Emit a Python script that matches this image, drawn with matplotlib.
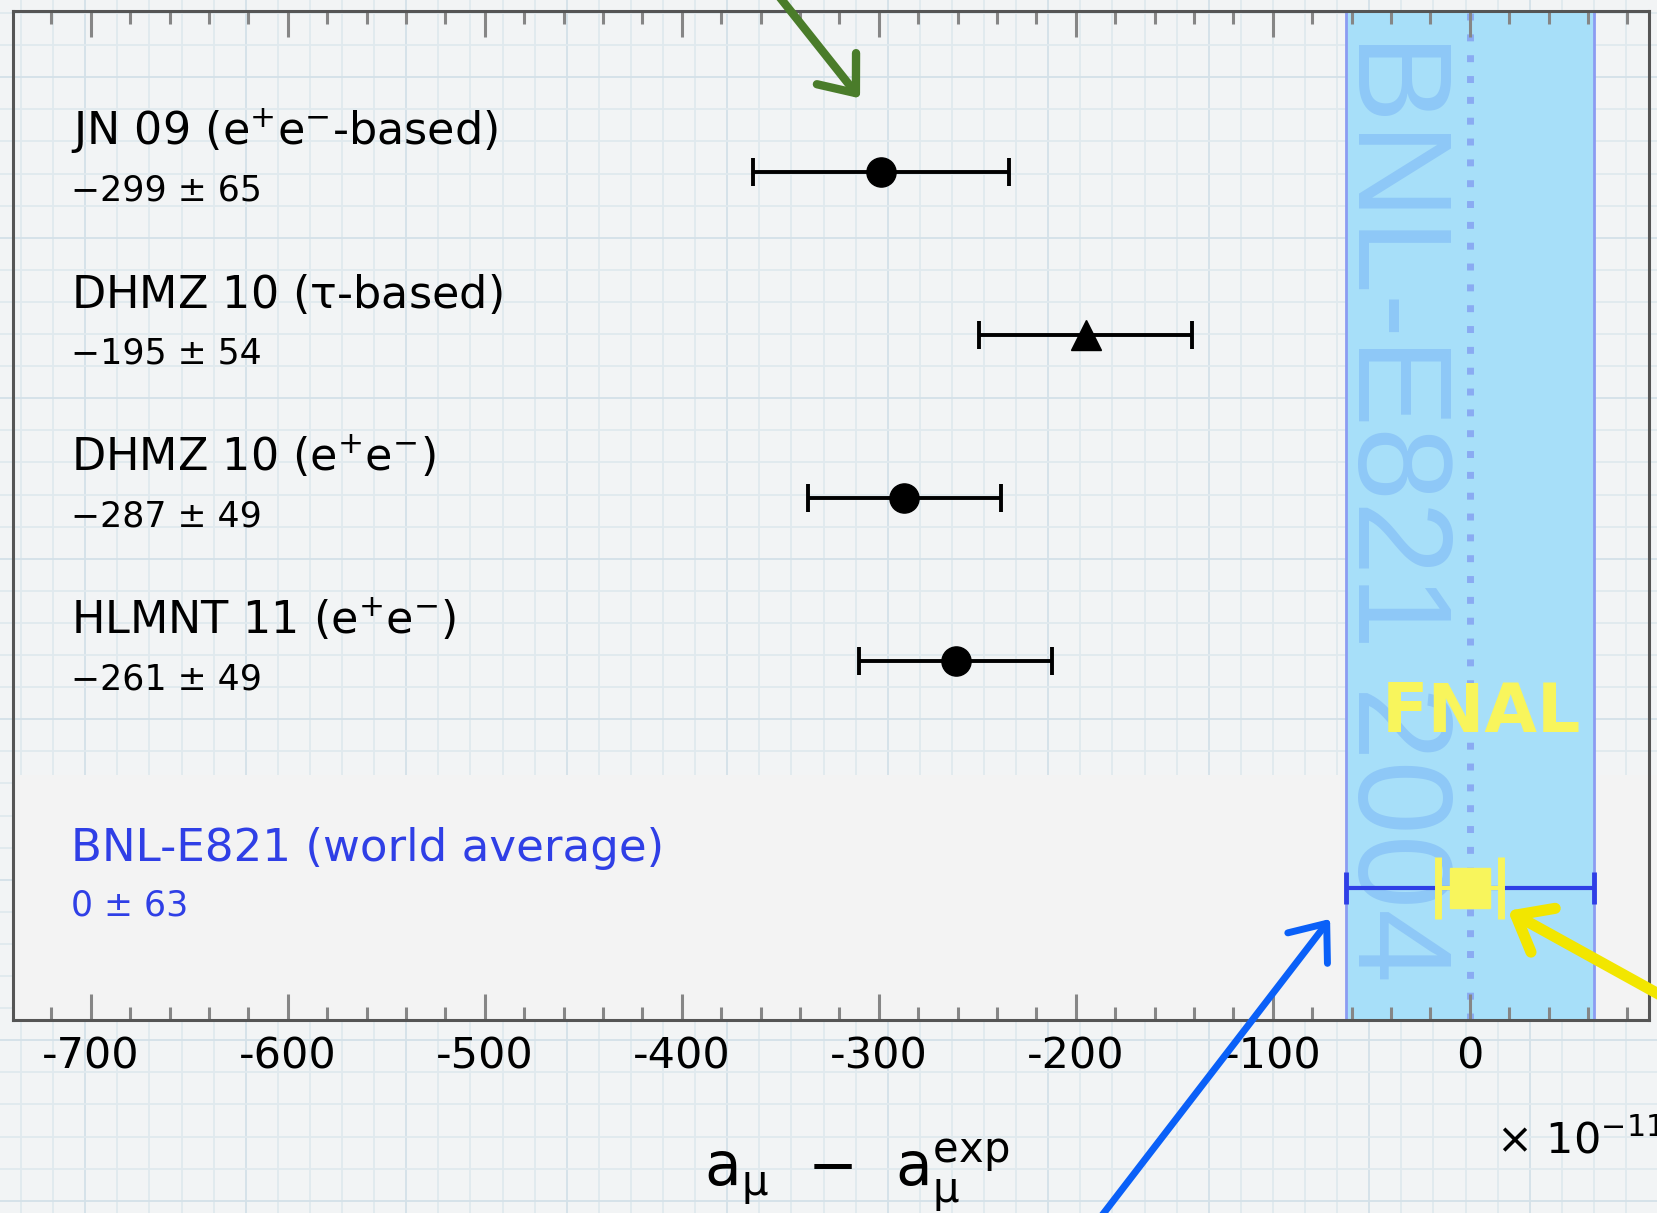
import matplotlib
matplotlib.use('Agg')
import matplotlib.pyplot as plt
import matplotlib.transforms as mtransforms
from matplotlib.patches import Rectangle
from matplotlib.ticker import MultipleLocator
import numpy as np

plt.rcParams['font.family'] = ['DejaVu Sans']
plt.rcParams['mathtext.fontset'] = 'dejavusans'
plt.rcParams['mathtext.default'] = 'regular'
plt.rcParams['axes.unicode_minus'] = False

# hadronic vacuum polarisation evaluations, a_mu(SM) - a_mu(exp) in units of 1e-11
labels = ["JN 09 (e$^{+}$e$^{-}$-based)",
          "DHMZ 10 ($\\tau$-based)",
          "DHMZ 10 (e$^{+}$e$^{-}$)",
          "HLMNT 11 (e$^{+}$e$^{-}$)"]
values = [-299, -195, -287, -261]
errors = [65, 54, 49, 49]
markers = ['o', '^', 'o', 'o']

bnl_label = "BNL-E821 (world average)"
bnl_value = 0
bnl_error = 63

fnal_value = 0
fnal_error = 16

W, H = 1657, 1213
fig = plt.figure(figsize=(W / 100, H / 100), dpi=100, facecolor='#f2f4f5')

# graph paper backdrop
bg = fig.add_axes([0, 0, 1, 1], zorder=-10)
bg.set_xlim(0, W)
bg.set_ylim(H, 0)
bg.axis('off')
step = 32.1
for i, x in enumerate(21 + step * np.arange(52)):
    bg.axvline(x, color='#d4e1e8' if i % 5 == 2 else '#e0e9ee', lw=1.3)
for i, y in enumerate(13 + step * np.arange(38)):
    bg.axhline(y, color='#d4e1e8' if i % 5 == 2 else '#e0e9ee', lw=1.3)

ax_left, ax_right, ax_top, ax_bottom = 13, 1649, 11, 1020
ax = fig.add_axes([ax_left / W, 1 - ax_bottom / H, (ax_right - ax_left) / W, (ax_bottom - ax_top) / H])
ax.set_facecolor('none')

# plain panel behind the world average row
fig.add_artist(Rectangle((ax_left / W, 1 - ax_bottom / H), 1, (ax_bottom - 775) / H,
                         transform=fig.transFigure, facecolor='#f3f3f3',
                         edgecolor='none', zorder=-5))

rows = np.arange(len(values))
bnl_row = 4.39

# BNL band
ax.axvspan(bnl_value - bnl_error, bnl_value + bnl_error, facecolor='#a7dff9',
           edgecolor='#8b9cf2', lw=2, zorder=1)
band_tr = mtransforms.blended_transform_factory(ax.transData, ax.transAxes)
ax.text(-71, 0.978, "BNL-E821 2004", transform=band_tr, rotation=270,
        ha='left', va='top', fontsize=96, family='Liberation Sans',
        color='#8ec8f7', zorder=1.2)
ax.axvline(bnl_value, color='#8aabf2', lw=5, linestyle=(0, (1, 2)),
           dash_capstyle='butt', zorder=1.5)

for y, v, e, m, lab in zip(rows, values, errors, markers, labels):
    ax.errorbar(v, y, xerr=e, fmt=m, color='black', ms=21 if m == 'o' else 22,
                lw=2.8, capsize=10, capthick=2.8, zorder=3)
    ax.text(-710, y - 0.166, lab, fontsize=32, va='baseline', zorder=3)
    sign = '\u2212' if v < 0 else ''
    ax.text(-710, y + 0.17, f"{sign}{abs(v)} \u00b1 {e}", fontsize=25,
            va='baseline', zorder=3)

blue = '#2f3fe6'
ax.errorbar(bnl_value, bnl_row, xerr=bnl_error, fmt='none', ecolor=blue,
            elinewidth=3, capsize=11.5, capthick=3.5, zorder=3)
ax.text(-710, bnl_row - 0.166, bnl_label, fontsize=32.5, va='baseline', color=blue, zorder=3)
ax.text(-710, bnl_row + 0.17, f"{bnl_value} \u00b1 {bnl_error}", fontsize=25,
        va='baseline', color=blue, zorder=3)

# projected FNAL precision
yellow = '#f8f55c'
ax.errorbar(fnal_value, bnl_row, xerr=fnal_error, fmt='s', color=yellow, ms=29,
            elinewidth=3, capsize=22, capthick=5, zorder=4)
ax.text(5.7, 3.436, "FNAL", ha='center', va='baseline', fontsize=49,
        fontweight='bold', color=yellow, zorder=4)

ax.set_xlim(-739.5, 91)
ax.set_ylim(5.2, -0.99)
ax.set_yticks([])
ax.xaxis.set_major_locator(MultipleLocator(100))
ax.xaxis.set_minor_locator(MultipleLocator(20))
ax.tick_params(axis='x', which='both', direction='in', top=True, bottom=True,
               color='#868686', width=2.2, labelsize=31, pad=11.5)
ax.tick_params(axis='x', which='major', length=19)
ax.tick_params(axis='x', which='minor', length=9.5)
for s in ax.spines.values():
    s.set_color('#555555')
    s.set_linewidth(2.2)

ax.set_xlabel("a$_{\\mu}$  $-$  a$_{\\mu}^{exp}$", fontsize=43)
ax.xaxis.label.set_va('baseline')
ax.xaxis.set_label_coords(0.516, -0.1655)
fig.text(1496 / W, 1 - 1153 / H, "$\\times$ 10$^{-11}$", fontsize=31, va='baseline')

# hand-drawn pointers
def pointer(tip, tail_px, color, lw):
    ax.annotate('', xy=tip, xycoords='data',
                xytext=(tail_px[0] / W, 1 - tail_px[1] / H), textcoords='figure fraction',
                arrowprops=dict(arrowstyle='->,head_length=0.45,head_width=0.36',
                                mutation_scale=50, lw=lw, color=color,
                                shrinkA=0, shrinkB=0),
                annotation_clip=False, zorder=6)

pointer((-309.5, -0.454), (770, -15), '#4a7c2a', 6)
pointer((-70.9, 4.58), (1090, 1231), '#0a60f8', 5)
pointer((19.4, 4.53), (1700, 1017), '#f2e600', 8)

fig.savefig('out.png', dpi=100, facecolor=fig.get_facecolor())
